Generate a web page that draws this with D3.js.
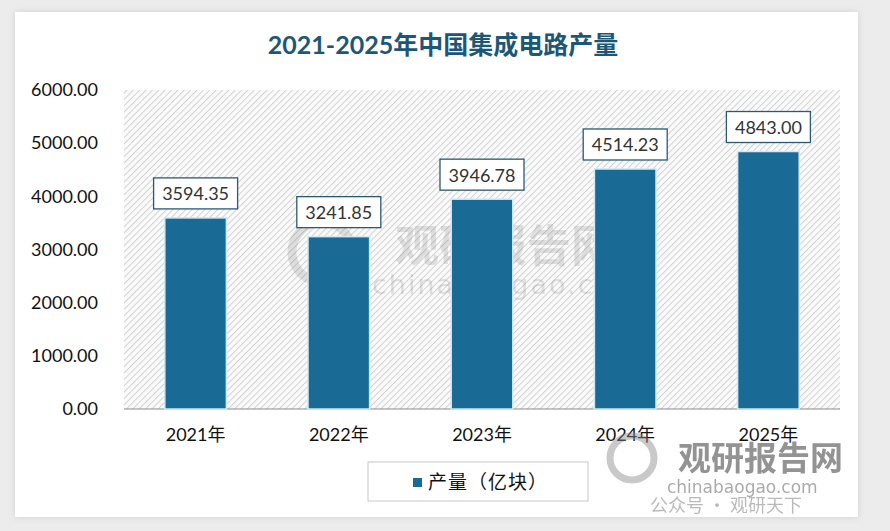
<!DOCTYPE html>
<html>
<head>
<meta charset="utf-8">
<script src="https://cdn.jsdelivr.net/npm/d3@7"></script>
<style>
  body { margin: 0; background: #ececec; }
  svg { display: block; }
</style>
</head>
<body>
<svg width="890" height="531"></svg>
<script>
const years = ["2021年", "2022年", "2023年", "2024年", "2025年"];
const output = [3594.35, 3241.85, 3946.78, 4514.23, 4843.00];
const yTicks = [0, 1000, 2000, 3000, 4000, 5000, 6000];
const seriesName = "产量（亿块）";
const title = "2021-2025年中国集成电路产量";

const svg = d3.select("svg");
const font = "Lato, 'Noto Sans CJK SC', sans-serif";

// hatch for the plot area
const defs = svg.append("defs");
const pat = defs.append("pattern")
    .attr("id", "hatch")
    .attr("width", 4.5).attr("height", 4.5)
    .attr("patternUnits", "userSpaceOnUse")
    .attr("patternTransform", "rotate(-45)");
pat.append("rect").attr("width", 4.5).attr("height", 4.5).attr("fill", "#fafafa");
pat.append("line").attr("x1", 0).attr("y1", 0).attr("x2", 4.5).attr("y2", 0)
    .attr("stroke", "#d2d2d2").attr("stroke-width", 2);

const shadow = defs.append("filter").attr("id", "shadow")
    .attr("x", "-5%").attr("y", "-5%").attr("width", "110%").attr("height", "110%");
shadow.append("feDropShadow").attr("dx", 0).attr("dy", 0)
    .attr("stdDeviation", 3).attr("flood-color", "#999").attr("flood-opacity", 0.35);

// card
svg.append("rect")
    .attr("x", 15).attr("y", 12).attr("width", 843).attr("height", 505)
    .attr("fill", "#fff").attr("filter", "url(#shadow)");

const plot = { left: 124, right: 840, top: 90, bottom: 409 };

const x = d3.scaleBand().domain(years)
    .range([plot.left, plot.right]).paddingInner(0.57).paddingOuter(0.285);
const y = d3.scaleLinear().domain([0, 6000]).range([plot.bottom, plot.top]);

svg.append("rect")
    .attr("x", plot.left).attr("y", plot.top)
    .attr("width", plot.right - plot.left).attr("height", plot.bottom - plot.top)
    .attr("fill", "url(#hatch)");

// title
svg.append("text")
    .attr("x", 443).attr("y", 54)
    .attr("text-anchor", "middle")
    .attr("font-family", font).attr("font-weight", "bold")
    .attr("font-size", 25).attr("fill", "#1d5777")
    .text(title);

// watermark in the middle
const wm = svg.append("g").attr("opacity", 0.16).attr("fill", "#555");
wm.append("circle").attr("cx", 322).attr("cy", 252).attr("r", 30)
    .attr("fill", "none").attr("stroke", "#555").attr("stroke-width", 9);
wm.append("text").attr("x", 395).attr("y", 262)
    .attr("font-family", "'Noto Sans CJK SC', sans-serif").attr("font-weight", "bold")
    .attr("font-size", 44).text("观研报告网");
wm.append("text").attr("x", 372).attr("y", 294)
    .attr("font-family", "'DejaVu Sans', sans-serif")
    .attr("font-size", 27).attr("letter-spacing", 2).text("chinabaogao.com");

// y axis
const yAxis = svg.append("g")
    .attr("transform", `translate(${plot.left},0)`)
    .call(d3.axisLeft(y).tickValues(yTicks).tickFormat(d3.format(".2f")).tickSize(0).tickPadding(26));
yAxis.select(".domain").remove();
yAxis.selectAll("text")
    .attr("font-family", font).attr("font-size", 18).attr("fill", "#111");

// x axis
const xAxis = svg.append("g")
    .attr("transform", `translate(0,${plot.bottom})`)
    .call(d3.axisBottom(x).tickSize(0).tickPadding(19));
xAxis.select(".domain").attr("stroke", "#8c8c8c").attr("stroke-width", 1.2)
    .attr("d", `M${plot.left},0H${plot.right}`);
xAxis.selectAll("text")
    .attr("font-family", font).attr("font-size", 18).attr("fill", "#111");

// bars
svg.append("g").selectAll("rect")
    .data(output)
    .join("rect")
    .attr("x", (d, i) => x(years[i]))
    .attr("y", d => y(d))
    .attr("width", x.bandwidth())
    .attr("height", d => y(0) - y(d))
    .attr("fill", "#1a6a96")
    .attr("stroke", "#cfeaf5").attr("stroke-width", 1.5);

// value labels in boxes
const fmt = d3.format(".2f");
const lab = svg.append("g").selectAll("g")
    .data(output)
    .join("g")
    .attr("transform", (d, i) => `translate(${x(years[i]) + x.bandwidth() / 2},${y(d) - 24})`);
lab.append("rect")
    .attr("x", -42).attr("y", -16).attr("width", 84).attr("height", 31)
    .attr("fill", "#fff").attr("stroke", "#2b5a70").attr("stroke-width", 1.3);
lab.append("text")
    .attr("text-anchor", "middle").attr("dy", "0.36em")
    .attr("font-family", font).attr("font-size", 18).attr("fill", "#333")
    .text(d => fmt(d));

// legend
const leg = svg.append("g").attr("transform", "translate(368,462)");
leg.append("rect").attr("width", 220).attr("height", 39)
    .attr("fill", "#fff").attr("stroke", "#c8c8c8");
leg.append("rect").attr("x", 45).attr("y", 16).attr("width", 9).attr("height", 9)
    .attr("fill", "#1a6a96");
leg.append("text").attr("x", 60).attr("y", 20).attr("dy", "0.36em")
    .attr("font-family", "'Noto Sans CJK SC', sans-serif").attr("font-size", 19)
    .attr("letter-spacing", 1)
    .attr("fill", "#111").text(seriesName);

// watermark bottom right
const wm2 = svg.append("g").attr("fill", "#666");
wm2.append("circle").attr("cx", 632).attr("cy", 458).attr("r", 22)
    .attr("fill", "none").attr("stroke", "#888").attr("stroke-width", 7).attr("opacity", 0.45);
wm2.append("text").attr("x", 678).attr("y", 470)
    .attr("font-family", "'Noto Sans CJK SC', sans-serif").attr("font-weight", "bold")
    .attr("font-size", 33).attr("opacity", 0.7).text("观研报告网");
wm2.append("text").attr("x", 667).attr("y", 493)
    .attr("font-family", "'DejaVu Sans', sans-serif")
    .attr("font-size", 17).attr("opacity", 0.55).text("chinabaogao.com");
wm2.append("text").attr("x", 650).attr("y", 512)
    .attr("font-family", "'Noto Sans CJK SC', sans-serif")
    .attr("font-size", 18).attr("opacity", 0.45).text("公众号 · 观研天下");
</script>
</body>
</html>
